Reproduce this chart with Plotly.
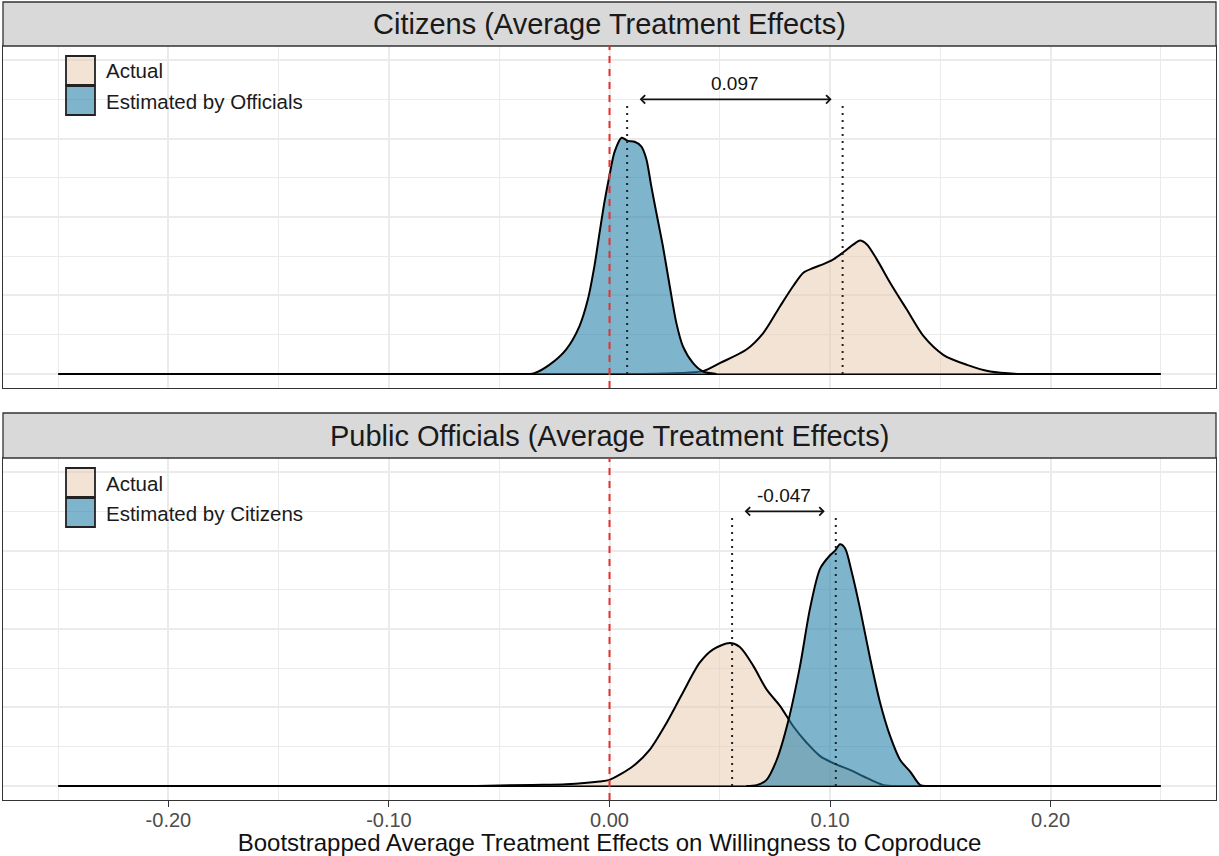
import plotly.graph_objects as go

# ---------------- data ----------------
panel_titles = ["Citizens (Average Treatment Effects)", "Public Officials (Average Treatment Effects)"]
series_names_top = ["Actual", "Estimated by Officials"]
series_names_bottom = ["Actual", "Estimated by Citizens"]

x_support = [-0.25, 0.25]
ref_line = 0.0

# Citizens panel
cit_actual_x = [0.015, 0.025, 0.035, 0.0424, 0.05, 0.0621, 0.0697, 0.0773, 0.0833, 0.0879, 0.0924, 0.097,
                0.1015, 0.106, 0.1106, 0.1136, 0.1167, 0.1212, 0.1273, 0.1348, 0.1424, 0.1515, 0.1621, 0.1727, 0.185]
cit_actual_y = [0, 0.05, 0.15, 0.35, 1.37, 3.1, 5.2, 8.6, 11.2, 12.9, 13.5, 14.0,
                14.6, 15.5, 16.5, 17.0, 16.5, 14.6, 11.6, 8.2, 4.8, 2.4, 1.15, 0.3, 0]
cit_est_x = [-0.042, -0.0341, -0.0273, -0.0197, -0.0136, -0.0098, -0.0068, -0.0045, -0.0023, 0.0, 0.0023,
             0.0055, 0.0083, 0.0114, 0.0144, 0.0167, 0.0189, 0.0212, 0.0242, 0.0273, 0.0303, 0.0333, 0.0379,
             0.0424, 0.0485]
cit_est_y = [0, 0.1, 1.15, 3.1, 6.1, 9.5, 13.8, 18.0, 21.9, 25.3, 28.3,
             30.1, 29.7, 29.6, 29.0, 27.4, 24.0, 20.6, 16.3, 11.2, 6.5, 3.5, 1.37,
             0.3, 0]

# Public officials panel
off_actual_x = [-0.06, -0.035, -0.0197, -0.0045, 0.0, 0.0106, 0.0182, 0.0258, 0.0333, 0.0409, 0.047, 0.0545,
                0.0591, 0.0652, 0.0712, 0.0773, 0.0833, 0.0894, 0.0955, 0.103, 0.109, 0.1152, 0.1242, 0.132]
off_actual_y = [0, 0.12, 0.2, 0.55, 0.77, 2.5, 4.6, 8.0, 11.9, 15.7, 17.4, 18.2,
                17.7, 15.3, 12.3, 10.2, 7.6, 5.5, 3.8, 2.7, 2.05, 1.2, 0.1, 0]
off_est_x = [0.062, 0.0667, 0.0712, 0.0758, 0.081, 0.0864, 0.0909, 0.0955, 0.1, 0.1023, 0.1045, 0.1068,
             0.1098, 0.1136, 0.1182, 0.1227, 0.1273, 0.1318, 0.1364, 0.1409, 0.1445]
off_est_y = [0, 0.1, 0.77, 3.3, 8.2, 15.3, 22.6, 27.7, 29.4, 30.0, 30.8, 30.3,
             27.3, 22.6, 16.2, 10.6, 6.3, 3.3, 1.8, 0.1, 0]

mean_actual = [0.1057, 0.0556]
mean_estimated = [0.0080, 0.1026]
diff_labels = ["0.097", "-0.047"]
marker_height = 34.5
arrow_height = 35.0
label_height = 37.0

tick_vals = [-0.2, -0.1, 0.0, 0.1, 0.2]
tick_labels = ["-0.20", "-0.10", "0.00", "0.10", "0.20"]
x_title = "Bootstrapped Average Treatment Effects on Willingness to Coproduce"

# ---------------- style ----------------
W, H = 1219, 856
FONT = "Liberation Sans, Arial, Helvetica, sans-serif"
BEIGE = "rgba(230,200,170,0.5)"
BLUE = "rgba(40,130,170,0.6)"
GRID = "#EBEBEB"
BORDER = "#333333"

def px(v):  # horizontal pixel -> paper
    return v / W

def py(v):  # vertical pixel (from top) -> paper
    return 1 - v / H

panel_left, panel_right = 3, 1216
panels = [(46, 388), (458, 800)]
strips = [(2, 46), (413, 458)]

fig = go.Figure()

data_sets = [
    (cit_actual_x, cit_actual_y, cit_est_x, cit_est_y, series_names_top),
    (off_actual_x, off_actual_y, off_est_x, off_est_y, series_names_bottom),
]

for i, (ax_, ay_, ex_, ey_, names) in enumerate(data_sets):
    xa = "x" if i == 0 else "x2"
    ya = "y" if i == 0 else "y2"
    fig.add_trace(go.Scatter(x=x_support, y=[0, 0], mode="lines", line=dict(color="black", width=2),
                             xaxis=xa, yaxis=ya, showlegend=False, hoverinfo="skip"))
    fig.add_trace(go.Scatter(x=ax_, y=ay_, mode="lines", name=names[0], fill="tozeroy", fillcolor=BEIGE,
                             line=dict(color="black", width=2, shape="spline", smoothing=0.8),
                             xaxis=xa, yaxis=ya, showlegend=False))
    fig.add_trace(go.Scatter(x=ex_, y=ey_, mode="lines", name=names[1], fill="tozeroy", fillcolor=BLUE,
                             line=dict(color="black", width=2, shape="spline", smoothing=0.8),
                             xaxis=xa, yaxis=ya, showlegend=False))

shapes = []
annotations = []

for i in range(2):
    xa = "x" if i == 0 else "x2"
    ya = "y" if i == 0 else "y2"
    top, bottom = panels[i]
    s_top, s_bot = strips[i]
    # strip
    shapes.append(dict(type="rect", xref="paper", yref="paper", x0=px(panel_left), x1=px(panel_right),
                       y0=py(s_bot), y1=py(s_top), fillcolor="#D9D9D9",
                       line=dict(color=BORDER, width=1.3), layer="above"))
    annotations.append(dict(xref="paper", yref="paper", x=px((panel_left + panel_right) / 2),
                            y=py((s_top + s_bot) / 2), text=panel_titles[i], showarrow=False,
                            font=dict(family=FONT, size=29, color="#1A1A1A"),
                            xanchor="center", yanchor="middle"))
    # reference line at zero
    shapes.append(dict(type="line", xref=xa, yref=ya + " domain", x0=ref_line, x1=ref_line, y0=0, y1=1,
                       line=dict(color="#E8302E", width=2, dash="7px,6px"), layer="above"))
    # dotted mean lines
    for m in (mean_actual[i], mean_estimated[i]):
        shapes.append(dict(type="line", xref=xa, yref=ya, x0=m, x1=m, y0=0, y1=marker_height,
                           line=dict(color="#222222", width=2, dash="2px,5px"), layer="above"))
    lo = min(mean_actual[i], mean_estimated[i])
    hi = max(mean_actual[i], mean_estimated[i])
    annotations.append(dict(xref=xa, yref=ya, x=hi - 0.005, y=arrow_height, ax=lo + 0.005, ay=arrow_height,
                            axref=xa, ayref=ya, text="", showarrow=True, arrowhead=4, startarrowhead=4,
                            arrowside="end+start", arrowsize=0.9, startarrowsize=0.9, arrowwidth=1.8,
                            arrowcolor="#111111", standoff=0, startstandoff=0))
    annotations.append(dict(xref=xa, yref=ya, x=(lo + hi) / 2, y=label_height, text=diff_labels[i],
                            showarrow=False, font=dict(family=FONT, size=19, color="#111111"),
                            xanchor="center", yanchor="middle"))
    # legend (drawn inside panel)
    key_fills = [BEIGE, BLUE]
    names = data_sets[i][4]
    for k in range(2):
        k_top = top + 10 + 30 * k
        shapes.append(dict(type="rect", xref="paper", yref="paper", x0=px(66), x1=px(95),
                           y0=py(k_top + 29), y1=py(k_top), fillcolor=key_fills[k],
                           line=dict(color="#222222", width=1.8), layer="above"))
        annotations.append(dict(xref="paper", yref="paper", x=px(104), y=py(k_top + 15), text=names[k],
                                showarrow=False, xanchor="left", yanchor="middle",
                                font=dict(family=FONT, size=20.5, color="#1A1A1A")))

axis_common = dict(range=[-0.275, 0.275], showgrid=True, gridcolor=GRID, gridwidth=1.5, zeroline=False,
                   showline=True, mirror=True, linecolor=BORDER, linewidth=1.3,
                   minor=dict(dtick=0.05, tick0=0, showgrid=True, gridcolor=GRID, gridwidth=1.2, ticks=""))
yaxis_common = dict(range=[-1.8, 41.8], showgrid=True, gridcolor=GRID, gridwidth=1.5, zeroline=False,
                    showline=True, mirror=True, linecolor=BORDER, linewidth=1.3, showticklabels=False,
                    ticks="", tick0=0, dtick=10,
                    minor=dict(dtick=5, tick0=0, showgrid=True, gridcolor=GRID, gridwidth=1.2, ticks=""))

fig.update_layout(
    width=W, height=H,
    margin=dict(l=0, r=0, t=0, b=0),
    paper_bgcolor="white", plot_bgcolor="white",
    font=dict(family=FONT, color="#1A1A1A"),
    showlegend=False,
    xaxis=dict(domain=[px(panel_left), px(panel_right)], anchor="y", showticklabels=False, ticks="",
               tick0=0, dtick=0.1, **axis_common),
    yaxis=dict(domain=[py(panels[0][1]), py(panels[0][0])], anchor="x", **yaxis_common),
    xaxis2=dict(domain=[px(panel_left), px(panel_right)], anchor="y2", tickmode="array",
                tickvals=tick_vals, ticktext=tick_labels, ticks="outside", ticklen=6, tickwidth=1.3,
                tickcolor=BORDER, tickfont=dict(family=FONT, size=20, color="#4D4D4D"),
                ticklabelstandoff=-4,
                title=dict(text=x_title, font=dict(family=FONT, size=24, color="#111111"), standoff=4),
                automargin=False, **axis_common),
    yaxis2=dict(domain=[py(panels[1][1]), py(panels[1][0])], anchor="x2", **yaxis_common),
    shapes=shapes,
    annotations=annotations,
)

fig.write_html("out.html")
